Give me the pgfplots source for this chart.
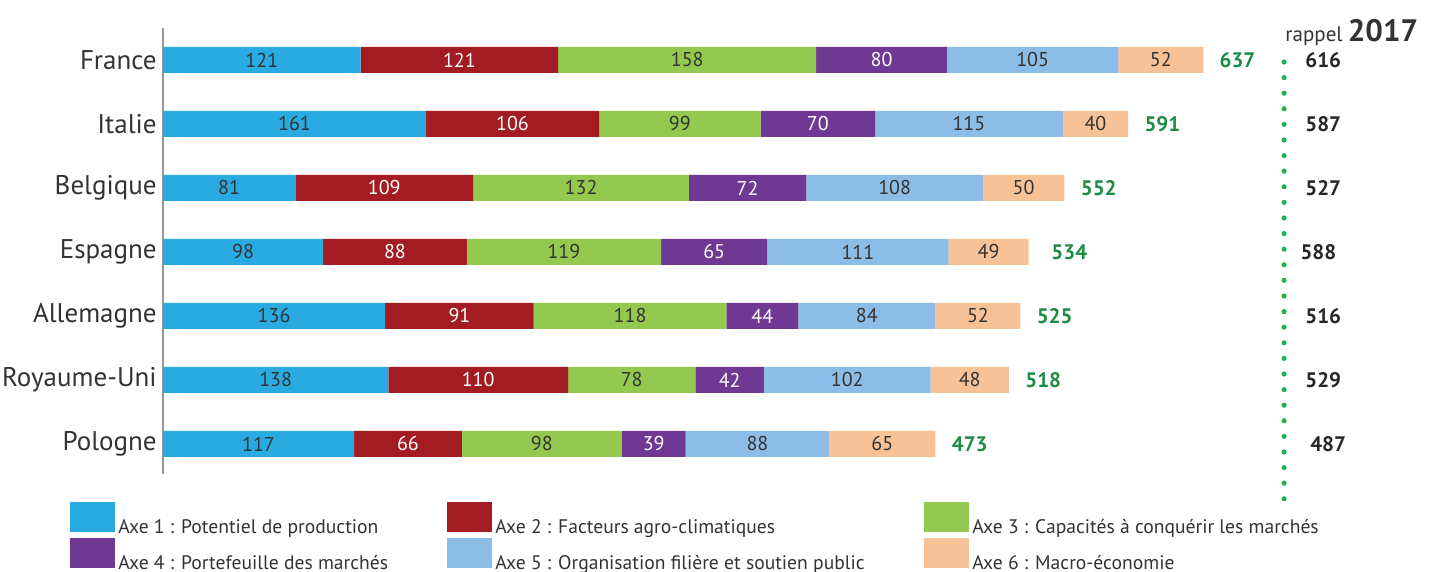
\documentclass[border=0pt]{standalone}
\usepackage{pgfplots}
\pgfplotsset{compat=1.18}
\usepackage{fontspec}
\setmainfont{PT Sans}
\definecolor{cA}{HTML}{29ABE2}
\definecolor{cB}{HTML}{A31C23}
\definecolor{cC}{HTML}{94C950}
\definecolor{cD}{HTML}{6F3893}
\definecolor{cE}{HTML}{8CBDE6}
\definecolor{cF}{HTML}{F8C299}
\definecolor{tgreen}{HTML}{1A8C45}
\definecolor{dgreen}{HTML}{22B24C}
\definecolor{txt}{HTML}{333333}
\begin{document}
\begin{tikzpicture}
\pgfplotsset{base/.style={scale only axis, width=640pt, height=223pt,
  xmin=0, xmax=783.8, ymin=-474, ymax=-28, clip=false}}
\begin{axis}[base, xbar stacked, bar width=26,
  axis x line=none, axis y line*=left,
  y axis line style={draw=gray!80, line width=0.7pt},
  ytick={-60,-124,-188,-252,-316,-380,-444},
  yticklabels={France,Italie,Belgique,Espagne,Allemagne,Royaume-Uni,Pologne},
  major tick length=0pt,
  yticklabel style={font=\fontsize{13.5}{15}\selectfont, text=txt, inner sep=0pt, xshift=-3pt},
  point meta=explicit symbolic,
  nodes near coords,
  every node near coord/.append style={anchor=center, inner sep=0pt,
    font=\fontsize{10}{11}\selectfont, text=txt},
  legend columns=3,
  legend cell align=left,
  legend image code/.code={\fill[#1] (0pt,-2pt) rectangle (22.5pt,13pt);},
  legend style={at={(-0.0727,-0.0628)}, anchor=north west, draw=none,
    font=\fontsize{9.8}{11}\selectfont, text=txt, inner sep=0pt, row sep=0.7pt,
    nodes={inner sep=0pt}},
]
\addplot[fill=cA, draw=none] coordinates {(121,-60)[121] (161,-124)[161] (81,-188)[81] (98,-252)[98] (136,-316)[136] (138,-380)[138] (117,-444)[117]};
\addplot[fill=cB, draw=none, every node near coord/.append style={text=white}] coordinates {(121,-60)[121] (106,-124)[106] (109,-188)[109] (88,-252)[88] (91,-316)[91] (110,-380)[110] (66,-444)[66]};
\addplot[fill=cC, draw=none] coordinates {(158,-60)[158] (99,-124)[99] (132,-188)[132] (119,-252)[119] (118,-316)[118] (78,-380)[78] (98,-444)[98]};
\addplot[fill=cD, draw=none, every node near coord/.append style={text=white}] coordinates {(80,-60)[80] (70,-124)[70] (72,-188)[72] (65,-252)[65] (44,-316)[44] (42,-380)[42] (39,-444)[39]};
\addplot[fill=cE, draw=none] coordinates {(105,-60)[105] (115,-124)[115] (108,-188)[108] (111,-252)[111] (84,-316)[84] (102,-380)[102] (88,-444)[88]};
\addplot[fill=cF, draw=none] coordinates {(52,-60)[52] (40,-124)[40] (50,-188)[50] (49,-252)[49] (52,-316)[52] (48,-380)[48] (65,-444)[65]};
\legend{\makebox[166pt][l]{\hspace{1.5pt}Axe 1 : Potentiel de production},
  \makebox[216pt][l]{\hspace{1.5pt}Axe 2 : Facteurs agro-climatiques},
  \makebox[200pt][l]{\hspace{1.5pt}Axe 3 : Capacités à conquérir les marchés},
  \makebox[166pt][l]{\hspace{1.5pt}Axe 4 : Portefeuille des marchés},
  \makebox[216pt][l]{\hspace{1.5pt}Axe 5 : Organisation filière et soutien public},
  \makebox[200pt][l]{\hspace{1.5pt}Axe 6 : Macro-économie}}
\end{axis}
\begin{axis}[base, axis lines=none]
\addplot[color=dgreen, line width=2.6pt, line cap=round, dash pattern=on 0pt off 7.8pt]
  coordinates {(686.5,-62) (686.5,-505)};
\addplot[only marks, mark=*, mark size=0pt,
  scatter/use mapped color={draw=none, fill=none},
  point meta=explicit symbolic, nodes near coords,
  every node near coord/.append style={anchor=west, inner sep=0pt, xshift=8pt,
    font=\fontsize{10.5}{12}\selectfont\bfseries, text=tgreen}]
  coordinates {(637,-60)[637] (591,-124)[591] (552,-188)[552] (534,-252)[534] (525,-316)[525] (518,-380)[518] (473,-444)[473]};
\addplot[only marks, mark=*, mark size=0pt,
  scatter/use mapped color={draw=none, fill=none},
  point meta=explicit symbolic, nodes near coords,
  every node near coord/.append style={anchor=west, inner sep=0pt,
    font=\fontsize{10.5}{12}\selectfont\bfseries, text=black!85}]
  coordinates {(699.3,-60)[616] (699.3,-124)[587] (699.3,-188)[527] (696.3,-252)[588] (699.3,-316)[516] (699.3,-380)[529] (702.3,-444)[487]};
\node[anchor=base west, inner sep=0pt, text=txt] at (axis cs:687.1,-42)
  {{\fontsize{10.5}{12}\selectfont rappel} {\fontsize{15.5}{17}\selectfont\bfseries 2017}};
\coordinate (BL) at (axis cs:-99.82,-572);
\coordinate (TR) at (axis cs:783.8,0);
\end{axis}
\pgfresetboundingbox
\useasboundingbox (BL) rectangle (TR);
\end{tikzpicture}
\end{document}
